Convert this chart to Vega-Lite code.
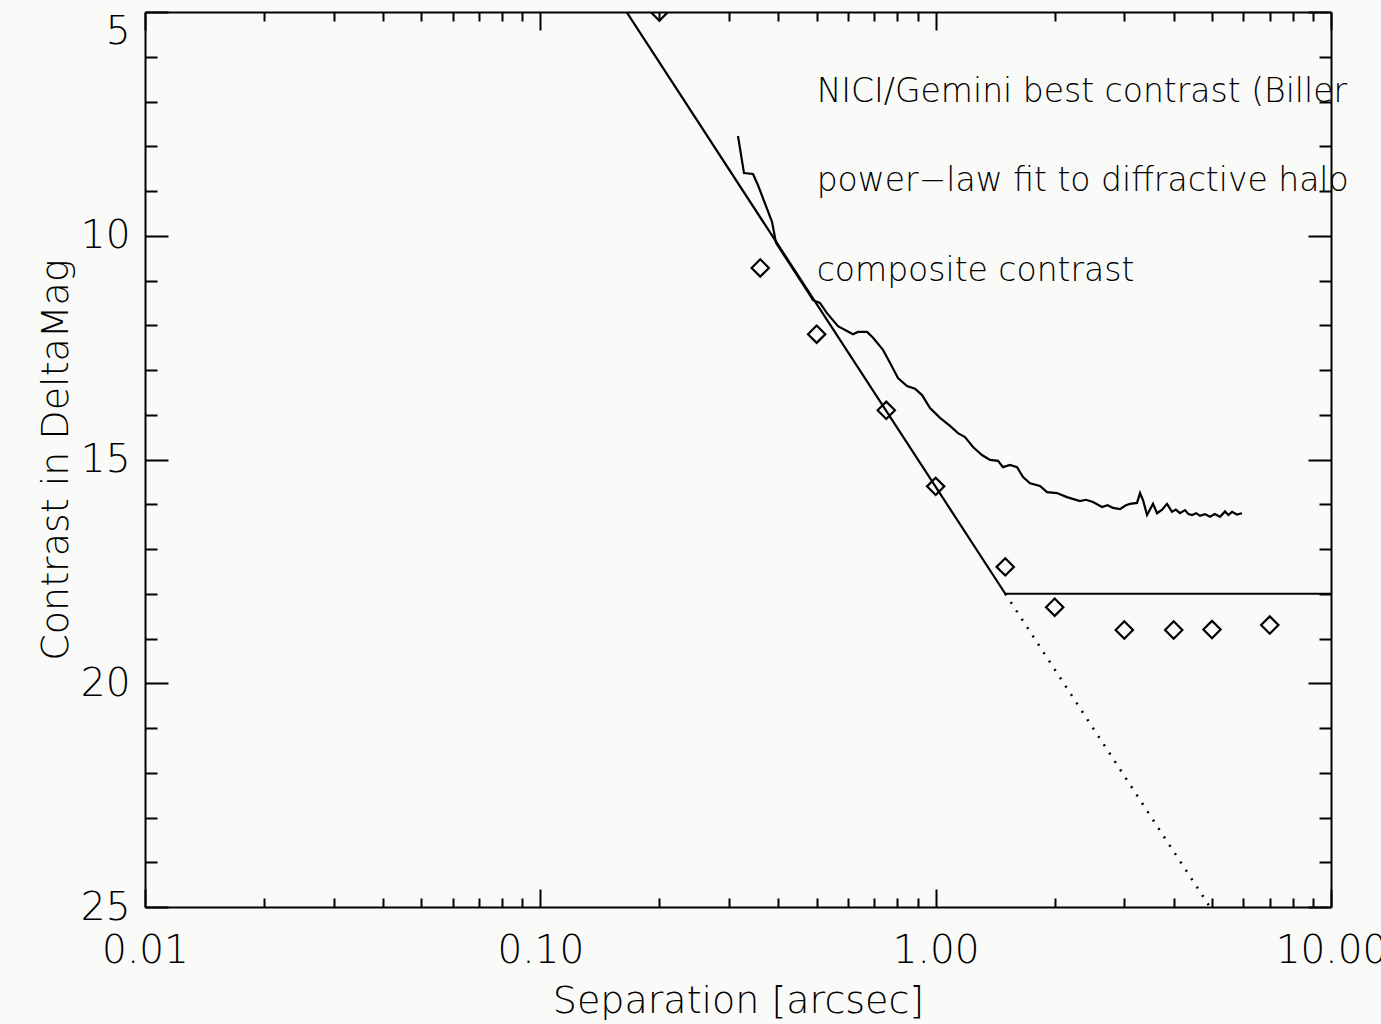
{
  "$schema": "https://vega.github.io/schema/vega-lite/v6.json",
  "autosize": {"type": "none"},
  "width": 1186,
  "height": 895,
  "padding": {"left": 145, "top": 12, "right": 50, "bottom": 117},
  "background": "#fafaf8",
  "config": {
    "view": {"stroke": null},
    "font": "DejaVu Sans",
    "axis": {
      "grid": false,
      "domainColor": "black",
      "domainWidth": 2,
      "tickColor": "black",
      "tickWidth": 2,
      "labelColor": "black",
      "titleColor": "black",
      "labelFont": "DejaVu Sans",
      "titleFont": "DejaVu Sans",
      "labelFontWeight": 200,
      "titleFontWeight": 200,
      "labelFontSize": 39,
      "titleFontSize": 38,
      "labelOverlap": false,
      "labelFlush": false
    }
  },
  "datasets": {
    "fit": [
      {"x": 0.1, "y": 2.04},
      {"x": 1.5, "y": 18.0},
      {"x": 10, "y": 18.0}
    ],
    "fitext": [
      {"x": 1.5, "y": 18.0},
      {"x": 5.2, "y": 25.3}
    ],
    "composite": [
      {"x": 0.2, "y": 5.0},
      {"x": 0.36, "y": 10.72},
      {"x": 0.5, "y": 12.2},
      {"x": 0.75, "y": 13.9},
      {"x": 1.0, "y": 15.6},
      {"x": 1.5, "y": 17.4},
      {"x": 2.0, "y": 18.3},
      {"x": 3.0, "y": 18.81},
      {"x": 4.0, "y": 18.81},
      {"x": 5.0, "y": 18.8},
      {"x": 7.0, "y": 18.7}
    ],
    "nici": [
      {"x": 0.3162, "y": 7.77},
      {"x": 0.3275, "y": 8.6},
      {"x": 0.3451, "y": 8.62},
      {"x": 0.3553, "y": 8.87},
      {"x": 0.3855, "y": 9.69},
      {"x": 0.3946, "y": 10.16},
      {"x": 0.4755, "y": 11.26},
      {"x": 0.4896, "y": 11.44},
      {"x": 0.5097, "y": 11.5},
      {"x": 0.5309, "y": 11.73},
      {"x": 0.5662, "y": 12.02},
      {"x": 0.6178, "y": 12.2},
      {"x": 0.6362, "y": 12.15},
      {"x": 0.6706, "y": 12.15},
      {"x": 0.6944, "y": 12.28},
      {"x": 0.7358, "y": 12.55},
      {"x": 0.7664, "y": 12.84},
      {"x": 0.8029, "y": 13.18},
      {"x": 0.8463, "y": 13.36},
      {"x": 0.8866, "y": 13.42},
      {"x": 0.9237, "y": 13.56},
      {"x": 0.9676, "y": 13.85},
      {"x": 1.0257, "y": 14.07},
      {"x": 1.0871, "y": 14.25},
      {"x": 1.1389, "y": 14.41},
      {"x": 1.1863, "y": 14.5},
      {"x": 1.2431, "y": 14.72},
      {"x": 1.3097, "y": 14.9},
      {"x": 1.3724, "y": 15.01},
      {"x": 1.4379, "y": 15.03},
      {"x": 1.4802, "y": 15.17},
      {"x": 1.5422, "y": 15.12},
      {"x": 1.6064, "y": 15.17},
      {"x": 1.6634, "y": 15.39},
      {"x": 1.7324, "y": 15.53},
      {"x": 1.8361, "y": 15.59},
      {"x": 1.9128, "y": 15.73},
      {"x": 2.0273, "y": 15.75},
      {"x": 2.1484, "y": 15.84},
      {"x": 2.3181, "y": 15.93},
      {"x": 2.4, "y": 15.9},
      {"x": 2.5003, "y": 15.95},
      {"x": 2.6354, "y": 16.06},
      {"x": 2.72, "y": 16.02},
      {"x": 2.8097, "y": 16.08},
      {"x": 2.9265, "y": 16.11},
      {"x": 3.02, "y": 16.03},
      {"x": 3.1016, "y": 15.99},
      {"x": 3.2311, "y": 15.97},
      {"x": 3.2881, "y": 15.75},
      {"x": 3.3462, "y": 15.91},
      {"x": 3.4249, "y": 16.24},
      {"x": 3.5467, "y": 15.99},
      {"x": 3.6302, "y": 16.2},
      {"x": 3.74, "y": 16.12},
      {"x": 3.848, "y": 15.99},
      {"x": 3.9614, "y": 16.17},
      {"x": 4.05, "y": 16.12},
      {"x": 4.1504, "y": 16.2},
      {"x": 4.2728, "y": 16.13},
      {"x": 4.36, "y": 16.22},
      {"x": 4.4504, "y": 16.24},
      {"x": 4.56, "y": 16.2},
      {"x": 4.6634, "y": 16.26},
      {"x": 4.8, "y": 16.22},
      {"x": 4.9431, "y": 16.28},
      {"x": 5.08, "y": 16.22},
      {"x": 5.24, "y": 16.28},
      {"x": 5.3945, "y": 16.16},
      {"x": 5.5, "y": 16.24},
      {"x": 5.6189, "y": 16.17},
      {"x": 5.78, "y": 16.23},
      {"x": 5.9558, "y": 16.2}
    ],
    "labels": [
      {"x": 0.5, "y": 7, "label": "NICI/Gemini best contrast (Biller"},
      {"x": 0.5, "y": 9, "label": "power−law fit to diffractive halo"},
      {"x": 0.5, "y": 11, "label": "composite contrast"}
    ]
  },
  "resolve": {"axis": {"x": "independent", "y": "independent"}},
  "layer": [
    {
      "data": {"name": "fit"},
      "mark": {"type": "line", "clip": true, "color": "black", "strokeWidth": 2.2},
      "encoding": {
        "x": {
          "field": "x", "type": "quantitative",
          "scale": {"type": "log", "domain": [0.01, 10], "nice": false},
          "axis": {
            "orient": "bottom",
            "title": "Separation [arcsec]",
            "titlePadding": 3,
            "labelPadding": 42,
            "values": [0.01,0.02,0.03,0.04,0.05,0.06,0.07,0.08,0.09,0.1,0.2,0.3,0.4,0.5,0.6,0.7,0.8,0.9,1,2,3,4,5,6,7,8,9,10],
            "labelExpr": "abs(log(datum.value)/LN10 - round(log(datum.value)/LN10)) < 0.001 ? format(datum.value, '.2f') : ''",
            "tickSize": {"condition": {"test": "abs(log(datum.value)/LN10 - round(log(datum.value)/LN10)) < 0.001", "value": -18}, "value": -9}
          }
        },
        "y": {
          "field": "y", "type": "quantitative",
          "scale": {"domain": [5, 25], "reverse": true, "nice": false, "zero": false},
          "axis": {
            "orient": "left",
            "title": "Contrast in DeltaMag",
            "titlePadding": 5,
            "labelPadding": 38,
            "values": [5,6,7,8,9,10,11,12,13,14,15,16,17,18,19,20,21,22,23,24,25],
            "labelExpr": "datum.value % 5 == 0 ? datum.label : ''",
            "labelBaseline": {"condition": {"test": "datum.value == 5", "value": "top"}, "value": "middle"},
            "tickSize": {"condition": {"test": "datum.value % 5 == 0", "value": -23}, "value": -12}
          }
        }
      }
    },
    {
      "data": {"name": "fitext"},
      "mark": {"type": "line", "clip": true, "color": "black", "strokeWidth": 2.5, "strokeDash": [2, 8]},
      "encoding": {
        "x": {"field": "x", "type": "quantitative", "axis": null},
        "y": {"field": "y", "type": "quantitative", "axis": null}
      }
    },
    {
      "data": {"name": "nici"},
      "mark": {"type": "line", "clip": true, "color": "black", "strokeWidth": 2.2},
      "encoding": {
        "x": {"field": "x", "type": "quantitative", "axis": null},
        "y": {"field": "y", "type": "quantitative", "axis": null}
      }
    },
    {
      "data": {"name": "composite"},
      "mark": {"type": "point", "shape": "diamond", "filled": false, "clip": true, "color": "black", "strokeWidth": 2.2, "size": 300, "opacity": 1},
      "encoding": {
        "x": {"field": "x", "type": "quantitative", "axis": null},
        "y": {"field": "y", "type": "quantitative", "axis": null}
      }
    },
    {
      "data": {"name": "labels"},
      "mark": {"type": "text", "align": "left", "baseline": "alphabetic", "fontSize": 33, "font": "DejaVu Sans", "fontWeight": 200, "color": "black"},
      "encoding": {
        "x": {"field": "x", "type": "quantitative", "axis": null},
        "y": {"field": "y", "type": "quantitative", "axis": null},
        "text": {"field": "label"}
      }
    },
    {
      "data": {"name": "composite"},
      "mark": {"type": "point", "opacity": 0},
      "encoding": {
        "x": {
          "field": "x", "type": "quantitative",
          "axis": {
            "orient": "top", "title": null, "labels": false,
            "values": [0.01,0.02,0.03,0.04,0.05,0.06,0.07,0.08,0.09,0.1,0.2,0.3,0.4,0.5,0.6,0.7,0.8,0.9,1,2,3,4,5,6,7,8,9,10],
            "tickSize": {"condition": {"test": "abs(log(datum.value)/LN10 - round(log(datum.value)/LN10)) < 0.001", "value": -18}, "value": -9}
          }
        },
        "y": {
          "field": "y", "type": "quantitative",
          "axis": {
            "orient": "right", "title": null, "labels": false,
            "values": [5,6,7,8,9,10,11,12,13,14,15,16,17,18,19,20,21,22,23,24,25],
            "tickSize": {"condition": {"test": "datum.value % 5 == 0", "value": -23}, "value": -12}
          }
        }
      }
    }
  ]
}
